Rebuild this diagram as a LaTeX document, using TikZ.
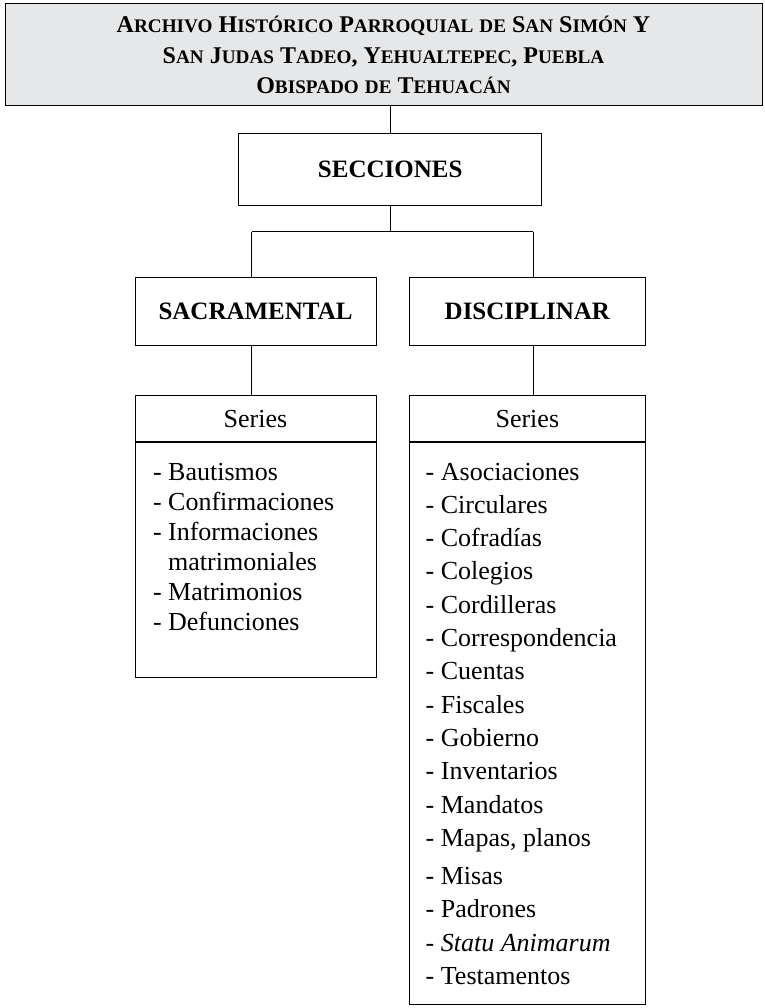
\documentclass[tikz,border=0pt]{standalone}
\usepackage{fontspec}
\setmainfont{Liberation Serif}
\definecolor{topfill}{RGB}{230,231,232}
\newcommand{\smc}[1]{{\fontsize{19.2}{19.2}\selectfont #1}}
\begin{document}
\begin{tikzpicture}[x=1pt,y=-1pt,
  box/.style={draw=black, line width=1pt, rectangle, inner sep=0pt, outer sep=0pt, anchor=north west},
  link/.style={draw=black, line width=1pt},
  headtxt/.style={font=\fontsize{25}{30}\selectfont\bfseries},
  sertxt/.style={font=\fontsize{26}{30}\selectfont},
  listtxt/.style={anchor=north west, inner sep=0pt, outer sep=0pt, align=left}]
\useasboundingbox (0,0) rectangle (764,1008);

\node[box, fill=topfill, minimum width=757pt, minimum height=102pt, align=center,
  font=\fontsize{24}{30.5}\selectfont\bfseries] (arch) at (5,4)
  {A\smc{RCHIVO} H\smc{ISTÓRICO} P\smc{ARROQUIAL} \smc{DE} S\smc{AN} S\smc{IMÓN} Y\\
   S\smc{AN} J\smc{UDAS} T\smc{ADEO}, Y\smc{EHUALTEPEC}, P\smc{UEBLA}\\
   O\smc{BISPADO} \smc{DE} T\smc{EHUACÁN}};

\node[box, headtxt, minimum width=303pt, minimum height=72.7pt] (sec) at (238.7,133.3) {SECCIONES};
\node[box, headtxt, minimum width=241pt, minimum height=67.7pt] (sac) at (135,277.3) {SACRAMENTAL};
\node[box, headtxt, minimum width=236.7pt, minimum height=67.7pt] (dis) at (409,277.3) {DISCIPLINAR};

\node[box, sertxt, minimum width=241pt, minimum height=46.2pt] (serL) at (135,395.5) {Series};
\node[box, minimum width=241pt, minimum height=235.3pt] (listL) at (135,441.7) {};
\node[box, sertxt, minimum width=236.7pt, minimum height=46.2pt] (serR) at (409,395.5) {Series};
\node[box, minimum width=236.7pt, minimum height=562.3pt] (listR) at (409,441.7) {};
\draw[link, line width=1.6pt] (listL.north west) -- (listL.north east);
\draw[link, line width=1.6pt] (listR.north west) -- (listR.north east);

\node[listtxt, font=\fontsize{26}{30}\selectfont] (itemsL) at (153,459)
  {\strut- Bautismos\\
   - Confirmaciones\\
   - Informaciones\\
   \hphantom{-\ }matrimoniales\\
   - Matrimonios\\
   - Defunciones};

\node[listtxt, font=\fontsize{26}{33.3}\selectfont] (itemsR) at (425.7,456.7)
  {\strut- Asociaciones\\
   - Circulares\\
   - Cofradías\\
   - Colegios\\
   - Cordilleras\\
   - Correspondencia\\
   - Cuentas\\
   - Fiscales\\
   - Gobierno\\
   - Inventarios\\
   - Mandatos\\
   - Mapas, planos\\[5pt]
   - Misas\\
   - Padrones\\
   - \textit{Statu Animarum}\\
   - Testamentos};

\coordinate (jL) at (251.7,231.7);
\coordinate (jR) at (533,231.7);
\draw[link] (sec.north |- arch.south) -- (sec.north);
\draw[link] (sec.south) -- (sec.south |- jL);
\draw[link] (jL) -- (jR);
\draw[link] (jL) -- (jL |- sac.north);
\draw[link] (jR) -- (jR |- dis.north);
\draw[link] (jL |- sac.south) -- (jL |- serL.north);
\draw[link] (jR |- dis.south) -- (jR |- serR.north);
\end{tikzpicture}
\end{document}
